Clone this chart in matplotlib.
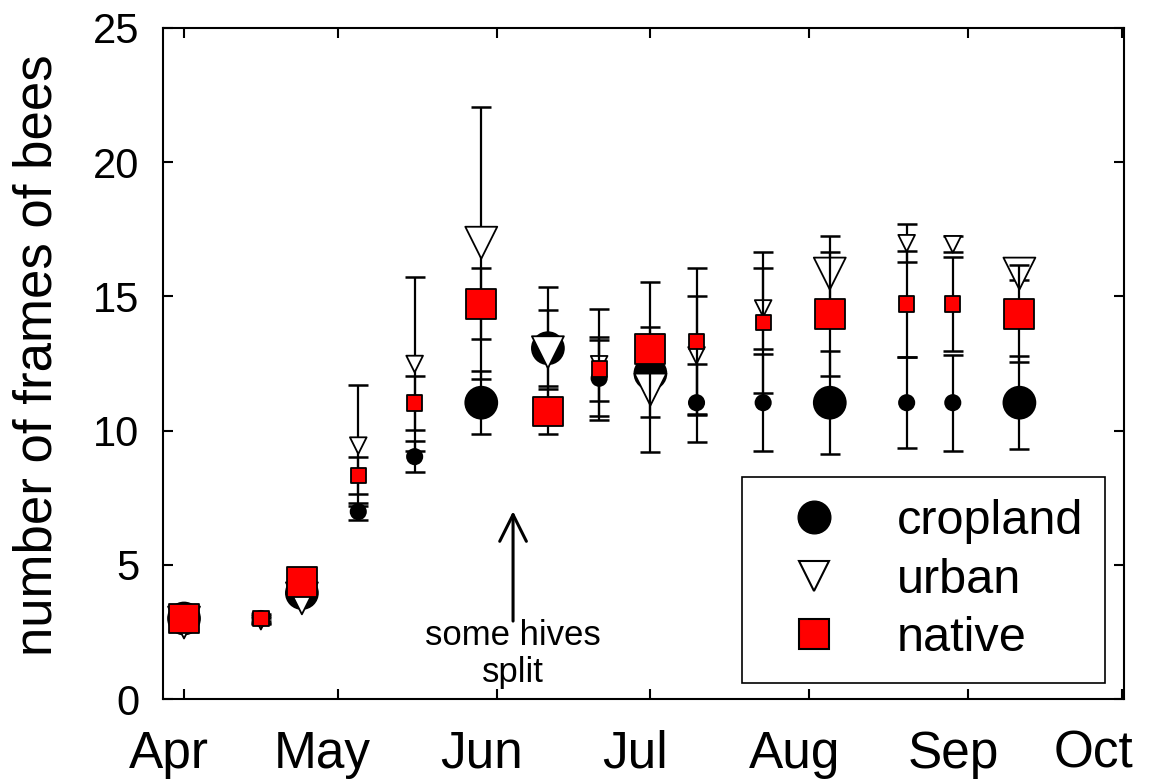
import matplotlib
matplotlib.use("Agg")
import matplotlib.pyplot as plt
import matplotlib.transforms as mtransforms
from matplotlib.lines import Line2D

plt.rcParams['font.family'] = ['Liberation Sans', 'DejaVu Sans']

# ---- data (x = days since 1 April) ----
days = [0, 15, 23, 34, 45, 58, 71, 81, 91, 100, 113, 126, 141, 150, 163]
big_marker = [1, 0, 1, 0, 0, 1, 1, 0, 1, 0, 0, 1, 0, 0, 1]

cropland = [3.0, 3.0, 3.95, 6.98, 9.03, 11.04, 13.07, 11.95, 12.13, 11.04, 11.04, 11.04, 11.04, 11.04, 11.04]
cropland_err = [0.2, 0.1, 0.25, 0.31, 0.58, 1.17, 1.42, 1.41, 0.4, 1.46, 1.8, 1.91, 1.7, 1.79, 1.74]

urban = [2.85, 2.9, 3.75, 9.44, 12.48, 17.0, 12.92, 12.47, 11.53, 12.8, 14.55, 15.85, 16.98, 16.94, 15.85]
urban_err = [0.2, 0.1, 0.2, 2.26, 3.23, 5.07, 2.42, 2.06, 2.34, 2.2, 1.5, 1.41, 0.7, 0.3, 0.25]

native = [3.0, 3.0, 4.35, 8.32, 11.03, 14.72, 10.71, 12.29, 13.03, 13.31, 14.03, 14.36, 14.72, 14.72, 14.36]
native_err = [0.2, 0.15, 0.2, 0.68, 1.0, 1.32, 0.85, 1.2, 2.52, 2.74, 2.64, 2.31, 1.97, 1.76, 1.8]

month_days = [0, 30, 61, 91, 122, 153, 183]
month_labels = ['Apr', 'May', 'Jun', 'Jul', 'Aug', 'Sep', 'Oct']
y_ticks = [0, 5, 10, 15, 20, 25]

fig = plt.figure(figsize=(11.61, 7.84), dpi=100)
ax = fig.add_axes([0.1404, 0.1084, 0.8277, 0.8559])

series = [
    ('cropland', cropland, cropland_err, 'o', 'black', 'black', 23.0, 11.0),
    ('urban', urban, urban_err, 'v', 'white', 'black', 23.0, 12.0),
    ('native', native, native_err, 's', '#ff0000', 'black', 21.5, 11.0),
]

z = 2
for name, vals, errs, mk, fc, ec, sbig, ssmall in series:
    ax.errorbar(days, vals, yerr=errs, fmt='none', ecolor='black',
                elinewidth=1.6, capsize=7, capthick=1.8, zorder=z)
    sizes = [(sbig if b else ssmall) ** 2 for b in big_marker]
    ax.scatter(days, vals, s=sizes, marker=mk, facecolors=fc,
               edgecolors=ec, linewidths=1.3, zorder=z + 1)
    z += 2

ax.set_xlim(-4.1, 183.4)
ax.set_ylim(0, 25)
ax.set_xticks(month_days)
ax.set_xticklabels(month_labels)
ax.set_yticks(y_ticks)
ax.tick_params(axis='both', direction='in', width=1.5, length=7,
               top=True, right=True)
ax.tick_params(axis='x', labelsize=37, pad=22)
ax.tick_params(axis='y', labelsize=30, pad=17)
for sp in ax.spines.values():
    sp.set_linewidth(1.5)

# month labels sit slightly left of their ticks in the original
for i, lab in enumerate(ax.get_xticklabels()):
    dx = -28 if i == len(month_labels) - 1 else -15
    off = mtransforms.ScaledTranslation(dx / 100, 0, fig.dpi_scale_trans)
    lab.set_transform(lab.get_transform() + off)

fig.text(0.032, 0.547, 'number of frames of bees', rotation=90,
         ha='center', va='center', fontsize=38)

# annotation
ax.annotate('', xy=(64.2, 7.1), xytext=(64.2, 2.8),
            arrowprops=dict(arrowstyle='->', lw=2.2, color='black',
                            mutation_scale=48))
ax.text(64.2, 2.01, 'some hives', ha='center', va='baseline', fontsize=25)
ax.text(64.2, 0.64, 'split', ha='center', va='baseline', fontsize=25)

handles = [
    Line2D([], [], linestyle='none', marker='o', markersize=23.5,
           markerfacecolor='black', markeredgecolor='black'),
    Line2D([], [], linestyle='none', marker='v', markersize=22,
           markerfacecolor='white', markeredgecolor='black', markeredgewidth=1.5),
    Line2D([], [], linestyle='none', marker='s', markersize=21,
           markerfacecolor='#ff0000', markeredgecolor='black', markeredgewidth=1.5),
]
leg = ax.legend(handles, ['cropland', 'urban', 'native'], loc='upper left',
                bbox_to_anchor=(0.602, 0.3304), borderaxespad=0,
                fontsize=35, frameon=True, fancybox=False, framealpha=1,
                edgecolor='black', borderpad=0.45, handlelength=2.1,
                handletextpad=0.65, labelspacing=0.28)
leg.get_frame().set_linewidth(1.2)
leg.set_zorder(10)

fig.savefig('out.png', dpi=100)
